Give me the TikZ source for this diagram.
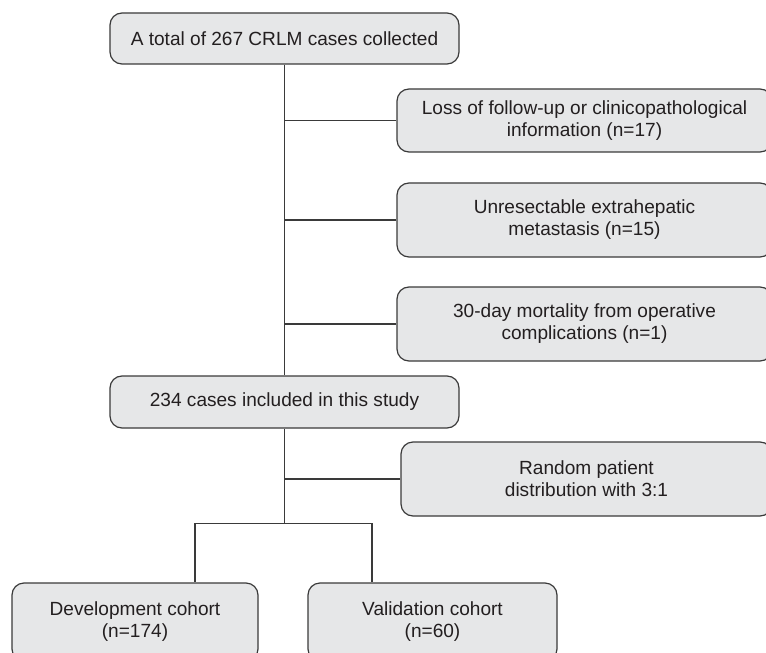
\documentclass[tikz,border=0pt]{standalone}
\usepackage{fontspec}
\setmainfont{Liberation Sans}
\usepackage{tikz}
\usetikzlibrary{calc, positioning}
\definecolor{cajagris}{HTML}{E6E7E8}
\definecolor{bordegris}{HTML}{3A3A3A}
\definecolor{textogris}{HTML}{231F20}
\tikzset{
    caja/.style={draw=bordegris, fill=cajagris, rounded corners=9pt, line width=0.9pt,
        align=center, inner sep=0pt, text=textogris,
        font=\fontsize{14.3}{16.5}\selectfont},
    enlace/.style={draw=bordegris, line width=1pt},
}

\begin{document}
\begin{tikzpicture}[x=0.75pt, y=-0.75pt]
\useasboundingbox (0,0) rectangle (766,652);
% Main column
\node[caja, minimum width=261.75pt, minimum height=38.25pt] (total) at (284.5,38.5)
    {A total of 267 CRLM cases collected};
\node[caja, minimum width=261.75pt, minimum height=39pt] (incluidos) at (284.5,402)
    {234 cases included in this study};
% Exclusions
\node[caja, minimum width=281.25pt, minimum height=47.25pt] (perdida) at (584.5,120.5)
    {Loss of follow-up or clinicopathological\\information (n=17)};
\node[caja, minimum width=281.25pt, minimum height=55.5pt] (irresecable) at (584.5,220)
    {Unresectable extrahepatic\\metastasis (n=15)};
\node[caja, minimum width=281.25pt, minimum height=55.5pt] (mortalidad) at (584.5,324)
    {30-day mortality from operative\\complications (n=1)};
% Randomisation
\node[caja, minimum width=278.25pt, minimum height=55.5pt] (azar) at (586.5,479)
    {Random patient\\distribution with 3:1};
% Cohorts
\node[caja, minimum width=184.5pt, minimum height=58.5pt] (desarrollo) at (135,622)
    {Development cohort\\(n=174)};
\node[caja, minimum width=186.75pt, minimum height=58.5pt] (validacion) at (432.5,622)
    {Validation cohort\\(n=60)};
\coordinate (reparto) at ($(incluidos.south)+(0,95)$);
% Connectors
\draw[enlace] (total.south) -- (incluidos.north);
\foreach \n in {perdida, irresecable, mortalidad} {
    \draw[enlace] (\n.west) -- (\n.west -| total.south);
}
\draw[enlace] (incluidos.south) -- (reparto);
\draw[enlace] (azar.west) -- (azar.west -| incluidos.south);
\draw[enlace] (reparto) -| ($(desarrollo.north)+(60,0)$);
\draw[enlace] (reparto) -| ($(validacion.north)+(-60.5,0)$);
\end{tikzpicture}
\end{document}
